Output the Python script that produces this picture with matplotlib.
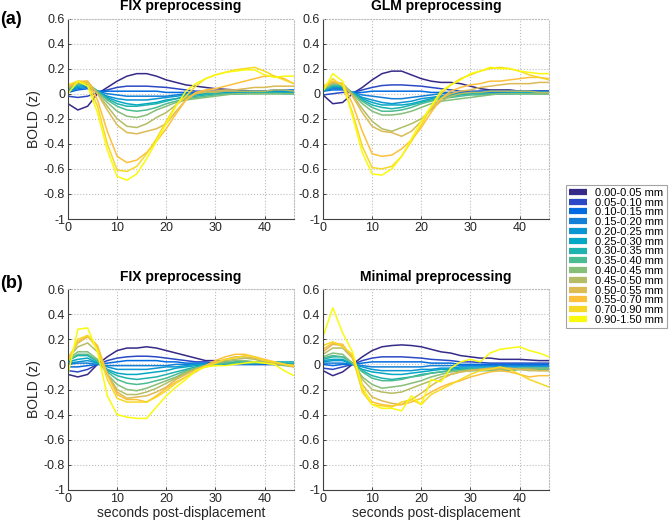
import matplotlib
matplotlib.use("Agg")
import matplotlib.pyplot as plt
from matplotlib.lines import Line2D

plt.rcParams['font.family'] = ['Liberation Sans', 'DejaVu Sans']
plt.rcParams['axes.unicode_minus'] = False

# time axis (seconds post-displacement)
t = [0, 2, 4, 6, 8, 10, 12, 14, 16, 18, 20, 22, 24, 26, 28, 30, 32, 34, 36, 38, 40, 42, 44, 46]

bins = ['0.00-0.05 mm', '0.05-0.10 mm', '0.10-0.15 mm', '0.15-0.20 mm', '0.20-0.25 mm',
        '0.25-0.30 mm', '0.30-0.35 mm', '0.35-0.40 mm', '0.40-0.45 mm', '0.45-0.50 mm',
        '0.50-0.55 mm', '0.55-0.70 mm', '0.70-0.90 mm', '0.90-1.50 mm']

# parula-like colours, one per displacement bin
colors = ['#352a87', '#2c49c5', '#036be0', '#137fd7', '#0b95d2', '#06a7c5', '#1eb3ae',
          '#4cbc92', '#85bf78', '#b4bd65', '#dcba54', '#fec03b', '#f7d925', '#f9fa0e']

yticks = [-1, -0.8, -0.6, -0.4, -0.2, 0, 0.2, 0.4, 0.6]
ytick_labels = ['-1', '-0.8', '-0.6', '-0.4', '-0.2', '0', '0.2', '0.4', '0.6']
xticks = [0, 10, 20, 30, 40]

# (a) FIX preprocessing
fix_a = [
    [-0.08, -0.13, -0.10, 0.00, 0.05, 0.10, 0.14, 0.16, 0.16, 0.14, 0.11, 0.09, 0.07, 0.06, 0.05, 0.04, 0.035, 0.03, 0.025, 0.02, 0.02, 0.02, 0.02, 0.02],
    [-0.02, -0.03, -0.02, 0.01, 0.03, 0.05, 0.06, 0.06, 0.06, 0.055, 0.05, 0.04, 0.03, 0.02, 0.02, 0.02, 0.02, 0.02, 0.02, 0.02, 0.02, 0.02, 0.02, 0.02],
    [0.01, 0.03, 0.04, 0.02, 0.02, 0.02, 0.02, 0.02, 0.02, 0.02, 0.01, 0.01, 0.01, 0.01, 0.01, 0.02, 0.02, 0.02, 0.02, 0.02, 0.02, 0.03, 0.03, 0.03],
    [0.02, 0.04, 0.05, 0.02, 0.0, -0.01, -0.02, -0.02, -0.02, -0.02, -0.02, -0.01, 0.0, 0.0, 0.01, 0.01, 0.01, 0.01, 0.01, 0.02, 0.02, 0.02, 0.02, 0.02],
    [0.02, 0.05, 0.06, 0.02, -0.02, -0.04, -0.05, -0.05, -0.05, -0.04, -0.03, -0.02, -0.01, 0.0, 0.0, 0.0, 0.01, 0.01, 0.01, 0.01, 0.01, 0.01, 0.02, 0.02],
    [0.03, 0.06, 0.07, 0.02, -0.03, -0.06, -0.08, -0.09, -0.08, -0.07, -0.05, -0.04, -0.02, -0.01, 0.0, 0.0, 0.0, 0.0, 0.01, 0.01, 0.01, 0.01, 0.01, 0.01],
    [0.03, 0.07, 0.08, 0.02, -0.04, -0.08, -0.10, -0.10, -0.09, -0.08, -0.06, -0.04, -0.03, -0.02, -0.01, 0.0, 0.0, 0.0, 0.0, 0.01, 0.01, 0.01, 0.0, 0.0],
    [0.04, 0.08, 0.08, 0.02, -0.05, -0.10, -0.13, -0.14, -0.13, -0.11, -0.08, -0.06, -0.04, -0.03, -0.02, -0.01, 0.0, 0.0, 0.0, 0.0, 0.0, 0.0, 0.0, 0.0],
    [0.04, 0.08, 0.08, 0.01, -0.07, -0.14, -0.18, -0.19, -0.17, -0.13, -0.10, -0.07, -0.05, -0.04, -0.03, -0.02, -0.01, 0.0, 0.0, 0.0, 0.0, 0.0, 0.0, 0.0],
    [0.05, 0.09, 0.09, 0.0, -0.10, -0.20, -0.26, -0.27, -0.24, -0.19, -0.15, -0.09, -0.03, 0.0, 0.01, 0.01, 0.02, 0.02, 0.02, 0.02, 0.02, 0.03, 0.03, 0.02],
    [0.05, 0.09, 0.10, 0.0, -0.13, -0.25, -0.31, -0.32, -0.30, -0.28, -0.24, -0.14, -0.05, 0.0, 0.02, 0.02, 0.03, 0.03, 0.04, 0.05, 0.05, 0.06, 0.06, 0.06],
    [0.06, 0.10, 0.10, -0.05, -0.30, -0.50, -0.55, -0.53, -0.47, -0.38, -0.28, -0.16, -0.05, 0.01, 0.03, 0.04, 0.06, 0.08, 0.10, 0.12, 0.14, 0.14, 0.12, 0.08],
    [0.07, 0.10, 0.08, -0.10, -0.40, -0.61, -0.62, -0.58, -0.48, -0.36, -0.22, -0.09, -0.02, 0.06, 0.12, 0.15, 0.17, 0.19, 0.20, 0.21, 0.18, 0.14, 0.11, 0.08],
    [0.0, 0.10, 0.06, -0.15, -0.45, -0.66, -0.69, -0.64, -0.52, -0.38, -0.24, -0.10, 0.02, 0.08, 0.12, 0.15, 0.17, 0.18, 0.19, 0.19, 0.15, 0.13, 0.14, 0.14],
]

# (a) GLM preprocessing
glm_a = [
    [-0.01, -0.08, -0.07, 0.0, 0.05, 0.11, 0.16, 0.18, 0.18, 0.15, 0.12, 0.10, 0.09, 0.09, 0.08, 0.06, 0.04, 0.03, 0.03, 0.03, 0.02, 0.02, 0.02, 0.02],
    [-0.01, 0.0, 0.01, 0.01, 0.03, 0.05, 0.065, 0.07, 0.07, 0.065, 0.06, 0.05, 0.04, 0.03, 0.02, 0.02, 0.02, 0.02, 0.02, 0.02, 0.02, 0.02, 0.02, 0.02],
    [0.02, 0.03, 0.03, 0.01, 0.01, 0.02, 0.02, 0.02, 0.02, 0.02, 0.02, 0.01, 0.01, 0.01, 0.01, 0.01, 0.02, 0.02, 0.02, 0.02, 0.02, 0.02, 0.02, 0.02],
    [0.02, 0.04, 0.04, 0.01, -0.01, -0.02, -0.03, -0.04, -0.04, -0.03, -0.02, -0.01, 0.0, 0.0, 0.0, 0.01, 0.01, 0.01, 0.01, 0.01, 0.01, 0.01, 0.01, 0.01],
    [0.02, 0.05, 0.05, 0.01, -0.03, -0.05, -0.07, -0.08, -0.07, -0.06, -0.04, -0.03, -0.02, -0.01, 0.0, 0.0, 0.0, 0.0, 0.0, 0.01, 0.01, 0.01, 0.01, 0.01],
    [0.03, 0.06, 0.06, 0.01, -0.04, -0.07, -0.09, -0.09, -0.09, -0.08, -0.06, -0.04, -0.02, -0.01, 0.0, 0.0, 0.0, 0.0, 0.0, 0.0, 0.01, 0.01, 0.01, 0.01],
    [0.03, 0.06, 0.06, 0.0, -0.05, -0.09, -0.11, -0.12, -0.11, -0.09, -0.07, -0.05, -0.03, -0.02, -0.01, 0.0, 0.0, 0.0, 0.0, 0.0, 0.0, 0.0, 0.0, 0.0],
    [0.03, 0.07, 0.07, 0.0, -0.06, -0.11, -0.14, -0.14, -0.13, -0.11, -0.08, -0.06, -0.04, -0.03, -0.02, -0.01, -0.01, 0.0, 0.0, 0.0, 0.0, 0.0, 0.0, 0.0],
    [0.04, 0.08, 0.08, 0.0, -0.08, -0.14, -0.17, -0.17, -0.16, -0.14, -0.11, -0.08, -0.06, -0.05, -0.04, -0.03, -0.02, -0.01, 0.0, 0.0, 0.0, 0.0, 0.0, 0.0],
    [0.04, 0.09, 0.08, -0.01, -0.12, -0.22, -0.28, -0.30, -0.27, -0.24, -0.20, -0.13, -0.06, -0.02, 0.0, 0.01, 0.01, 0.02, 0.02, 0.02, 0.02, 0.02, 0.01, 0.01],
    [0.05, 0.09, 0.08, -0.02, -0.15, -0.26, -0.30, -0.31, -0.34, -0.30, -0.22, -0.12, -0.04, 0.0, 0.02, 0.03, 0.05, 0.06, 0.07, 0.08, 0.08, 0.08, 0.09, 0.09],
    [0.06, 0.10, 0.08, -0.08, -0.30, -0.48, -0.50, -0.49, -0.44, -0.37, -0.27, -0.15, -0.04, 0.02, 0.05, 0.07, 0.08, 0.10, 0.10, 0.11, 0.12, 0.13, 0.13, 0.12],
    [0.05, 0.12, 0.06, -0.15, -0.42, -0.59, -0.60, -0.58, -0.50, -0.38, -0.25, -0.11, 0.0, 0.07, 0.12, 0.15, 0.18, 0.20, 0.21, 0.20, 0.18, 0.15, 0.13, 0.11],
    [0.02, 0.16, 0.10, -0.18, -0.47, -0.64, -0.65, -0.60, -0.50, -0.36, -0.22, -0.10, 0.02, 0.07, 0.11, 0.16, 0.18, 0.21, 0.20, 0.20, 0.18, 0.17, 0.16, 0.16],
]

# (b) FIX preprocessing
fix_b = [
    [-0.08, -0.10, -0.08, 0.0, 0.06, 0.11, 0.13, 0.13, 0.14, 0.13, 0.11, 0.09, 0.07, 0.05, 0.03, 0.03, 0.02, 0.01, 0.01, 0.0, 0.0, 0.0, 0.0, 0.0],
    [-0.05, -0.06, -0.04, 0.0, 0.03, 0.05, 0.06, 0.065, 0.065, 0.06, 0.05, 0.04, 0.03, 0.02, 0.02, 0.01, 0.01, 0.0, 0.0, 0.0, 0.0, 0.0, 0.0, 0.0],
    [-0.02, -0.02, -0.01, 0.0, 0.01, 0.02, 0.03, 0.03, 0.03, 0.03, 0.02, 0.02, 0.01, 0.01, 0.01, 0.0, 0.0, 0.0, 0.0, 0.0, 0.0, 0.0, 0.0, 0.0],
    [0.0, 0.01, 0.01, 0.0, -0.01, -0.01, -0.01, -0.01, -0.01, -0.01, -0.01, 0.0, 0.0, 0.0, 0.0, 0.0, 0.0, 0.0, 0.0, 0.0, 0.01, 0.0, 0.0, 0.0],
    [0.01, 0.02, 0.03, 0.01, -0.02, -0.04, -0.04, -0.04, -0.04, -0.03, -0.02, -0.02, -0.01, 0.0, 0.0, 0.0, 0.0, 0.01, 0.01, 0.01, 0.01, 0.0, 0.0, 0.0],
    [0.02, 0.04, 0.05, 0.01, -0.04, -0.07, -0.08, -0.08, -0.07, -0.06, -0.05, -0.03, -0.02, -0.01, 0.0, 0.01, 0.01, 0.01, 0.01, 0.01, 0.01, 0.01, 0.01, 0.01],
    [0.03, 0.07, 0.07, 0.02, -0.05, -0.09, -0.11, -0.12, -0.11, -0.10, -0.08, -0.06, -0.04, -0.02, -0.01, 0.0, 0.01, 0.02, 0.02, 0.02, 0.02, 0.02, 0.02, 0.02],
    [0.03, 0.08, 0.08, 0.03, -0.06, -0.12, -0.15, -0.16, -0.15, -0.13, -0.11, -0.08, -0.05, -0.03, -0.02, 0.0, 0.01, 0.01, 0.01, 0.01, 0.01, 0.01, 0.0, 0.0],
    [0.04, 0.10, 0.10, 0.04, -0.08, -0.16, -0.20, -0.21, -0.19, -0.16, -0.13, -0.10, -0.06, -0.03, -0.01, 0.01, 0.02, 0.03, 0.03, 0.02, 0.01, 0.0, -0.01, -0.02],
    [0.05, 0.14, 0.17, 0.10, -0.08, -0.20, -0.24, -0.24, -0.22, -0.19, -0.15, -0.11, -0.07, -0.04, -0.01, 0.01, 0.03, 0.04, 0.05, 0.04, 0.02, 0.01, 0.0, -0.01],
    [0.05, 0.17, 0.22, 0.14, -0.08, -0.22, -0.27, -0.26, -0.25, -0.22, -0.18, -0.12, -0.08, -0.04, -0.01, 0.02, 0.04, 0.06, 0.06, 0.05, 0.03, 0.01, 0.0, -0.01],
    [0.04, 0.18, 0.23, 0.15, -0.08, -0.24, -0.28, -0.28, -0.30, -0.25, -0.19, -0.14, -0.10, -0.06, -0.01, 0.03, 0.06, 0.08, 0.08, 0.06, 0.04, 0.02, 0.0, -0.02],
    [0.02, 0.20, 0.23, 0.12, -0.12, -0.27, -0.30, -0.30, -0.30, -0.26, -0.21, -0.15, -0.10, -0.05, -0.02, 0.01, 0.04, 0.05, 0.07, 0.06, 0.03, 0.02, 0.0, -0.01],
    [-0.08, 0.28, 0.29, 0.10, -0.25, -0.40, -0.42, -0.43, -0.43, -0.34, -0.25, -0.18, -0.12, -0.05, -0.02, -0.01, -0.01, 0.0, 0.01, 0.02, 0.01, 0.0, -0.05, -0.09],
]

# (b) Minimal preprocessing
minimal_b = [
    [-0.05, -0.09, -0.06, 0.0, 0.06, 0.11, 0.14, 0.15, 0.155, 0.15, 0.14, 0.12, 0.10, 0.09, 0.07, 0.06, 0.05, 0.05, 0.04, 0.04, 0.04, 0.035, 0.03, 0.03],
    [-0.03, -0.04, -0.02, 0.0, 0.03, 0.05, 0.06, 0.06, 0.06, 0.055, 0.05, 0.04, 0.035, 0.03, 0.02, 0.02, 0.015, 0.01, 0.01, 0.01, 0.01, 0.01, 0.01, 0.01],
    [0.0, -0.01, 0.0, 0.0, 0.01, 0.02, 0.02, 0.02, 0.02, 0.02, 0.02, 0.01, 0.01, 0.01, 0.0, 0.0, 0.0, 0.0, 0.0, 0.0, 0.0, 0.0, 0.0, 0.0],
    [0.01, 0.01, 0.01, 0.0, -0.01, -0.02, -0.02, -0.02, -0.02, -0.02, -0.02, -0.01, -0.01, -0.01, -0.01, -0.01, -0.01, -0.01, -0.01, -0.01, -0.01, -0.01, -0.01, -0.01],
    [0.02, 0.03, 0.03, 0.0, -0.02, -0.04, -0.05, -0.05, -0.05, -0.05, -0.04, -0.04, -0.03, -0.03, -0.02, -0.02, -0.02, -0.02, -0.02, -0.02, -0.02, -0.02, -0.02, -0.02],
    [0.03, 0.04, 0.04, 0.0, -0.04, -0.06, -0.07, -0.08, -0.08, -0.07, -0.06, -0.05, -0.04, -0.04, -0.03, -0.03, -0.03, -0.03, -0.03, -0.03, -0.03, -0.03, -0.03, -0.03],
    [0.04, 0.06, 0.06, 0.01, -0.05, -0.09, -0.11, -0.12, -0.11, -0.10, -0.08, -0.07, -0.06, -0.05, -0.04, -0.04, -0.04, -0.04, -0.04, -0.04, -0.04, -0.04, -0.04, -0.04],
    [0.05, 0.07, 0.06, 0.01, -0.06, -0.11, -0.13, -0.13, -0.12, -0.10, -0.09, -0.07, -0.06, -0.05, -0.05, -0.05, -0.05, -0.05, -0.05, -0.05, -0.04, -0.04, -0.04, -0.04],
    [0.06, 0.09, 0.08, 0.01, -0.10, -0.16, -0.19, -0.18, -0.17, -0.15, -0.13, -0.10, -0.08, -0.06, -0.05, -0.04, -0.04, -0.04, -0.04, -0.04, -0.03, -0.03, -0.03, -0.03],
    [0.08, 0.13, 0.13, 0.05, -0.12, -0.20, -0.22, -0.23, -0.22, -0.19, -0.16, -0.13, -0.10, -0.08, -0.06, -0.05, -0.04, -0.04, -0.04, -0.04, -0.04, -0.05, -0.05, -0.05],
    [0.10, 0.16, 0.15, 0.06, -0.16, -0.26, -0.29, -0.31, -0.32, -0.28, -0.23, -0.17, -0.12, -0.08, -0.06, -0.05, -0.04, -0.03, -0.03, -0.03, -0.04, -0.04, -0.05, -0.05],
    [0.12, 0.17, 0.16, 0.05, -0.20, -0.30, -0.32, -0.33, -0.32, -0.30, -0.27, -0.22, -0.18, -0.15, -0.13, -0.10, -0.08, -0.06, -0.05, -0.06, -0.08, -0.10, -0.09, -0.09],
    [0.15, 0.18, 0.14, 0.08, -0.22, -0.32, -0.33, -0.34, -0.30, -0.28, -0.32, -0.24, -0.20, -0.16, -0.12, -0.08, -0.05, -0.04, -0.02, -0.04, -0.08, -0.12, -0.15, -0.18],
    [0.22, 0.45, 0.25, 0.10, -0.18, -0.32, -0.35, -0.35, -0.37, -0.25, -0.32, -0.12, -0.14, -0.03, 0.02, 0.04, 0.02, 0.09, 0.12, 0.13, 0.14, 0.11, 0.09, 0.06],
]

W, H = 672, 522
fig = plt.figure(figsize=(W / 100, H / 100), dpi=100)


def px_axes(left, top, right, bottom):
    return fig.add_axes([left / W, 1 - bottom / H, (right - left) / W, (bottom - top) / H])


panels = [
    (px_axes(68, 18.5, 294, 219), fix_a, 'FIX preprocessing', True, False),
    (px_axes(323, 18.5, 549, 219), glm_a, 'GLM preprocessing', False, False),
    (px_axes(68, 289, 294, 490), fix_b, 'FIX preprocessing', True, True),
    (px_axes(323, 289, 549, 490), minimal_b, 'Minimal preprocessing', False, True),
]

for ax, data, title, show_ylabel, show_xlabel in panels:
    for series, c in zip(data, colors):
        ax.plot(t, series, color=c, lw=1.1)
    ax.set_xlim(0, 46)
    ax.set_ylim(-1, 0.6)
    ax.set_xticks(xticks)
    ax.set_yticks(yticks)
    ax.set_yticklabels(ytick_labels)
    ax.grid(True, linestyle=':', color='#bdbdbd', lw=0.8)
    ax.tick_params(direction='in', length=2.5, width=0.6, labelsize=9, colors='#262626', pad=2)
    for side in ['left', 'bottom']:
        ax.spines[side].set_color('#404040')
        ax.spines[side].set_linewidth(0.8)
    for side in ['top', 'right']:
        ax.spines[side].set_color('#bdbdbd')
        ax.spines[side].set_linestyle(':')
        ax.spines[side].set_linewidth(0.8)
    ax.set_title(title, fontweight='bold', fontsize=10, pad=6)
    if show_ylabel:
        ax.set_ylabel('BOLD (z)', fontsize=10, color='#262626')
        ax.yaxis.set_label_coords(-0.12, 0.5)
    if show_xlabel:
        ax.set_xlabel('seconds post-displacement', fontsize=10, color='#262626', labelpad=1)

fig.text(0.0, 1 - 19.5 / H, '(a)', fontsize=13, fontweight='bold', va='center', ha='left')
fig.text(0.0, 1 - 284 / H, '(b)', fontsize=13, fontweight='bold', va='center', ha='left')

handles = [Line2D([], [], color=c, lw=4.5, solid_capstyle='butt') for c in colors]
leg = fig.legend(handles, bins, loc='upper left', bbox_to_anchor=(566 / W, 1 - 185 / H),
                 fontsize=8, frameon=True, fancybox=False, borderaxespad=0,
                 handlelength=1.6, handletextpad=0.8, labelspacing=-0.02, borderpad=0.25)
leg.get_frame().set_edgecolor('#8c8c8c')
leg.get_frame().set_linewidth(0.8)

fig.savefig('out.png', dpi=100)
